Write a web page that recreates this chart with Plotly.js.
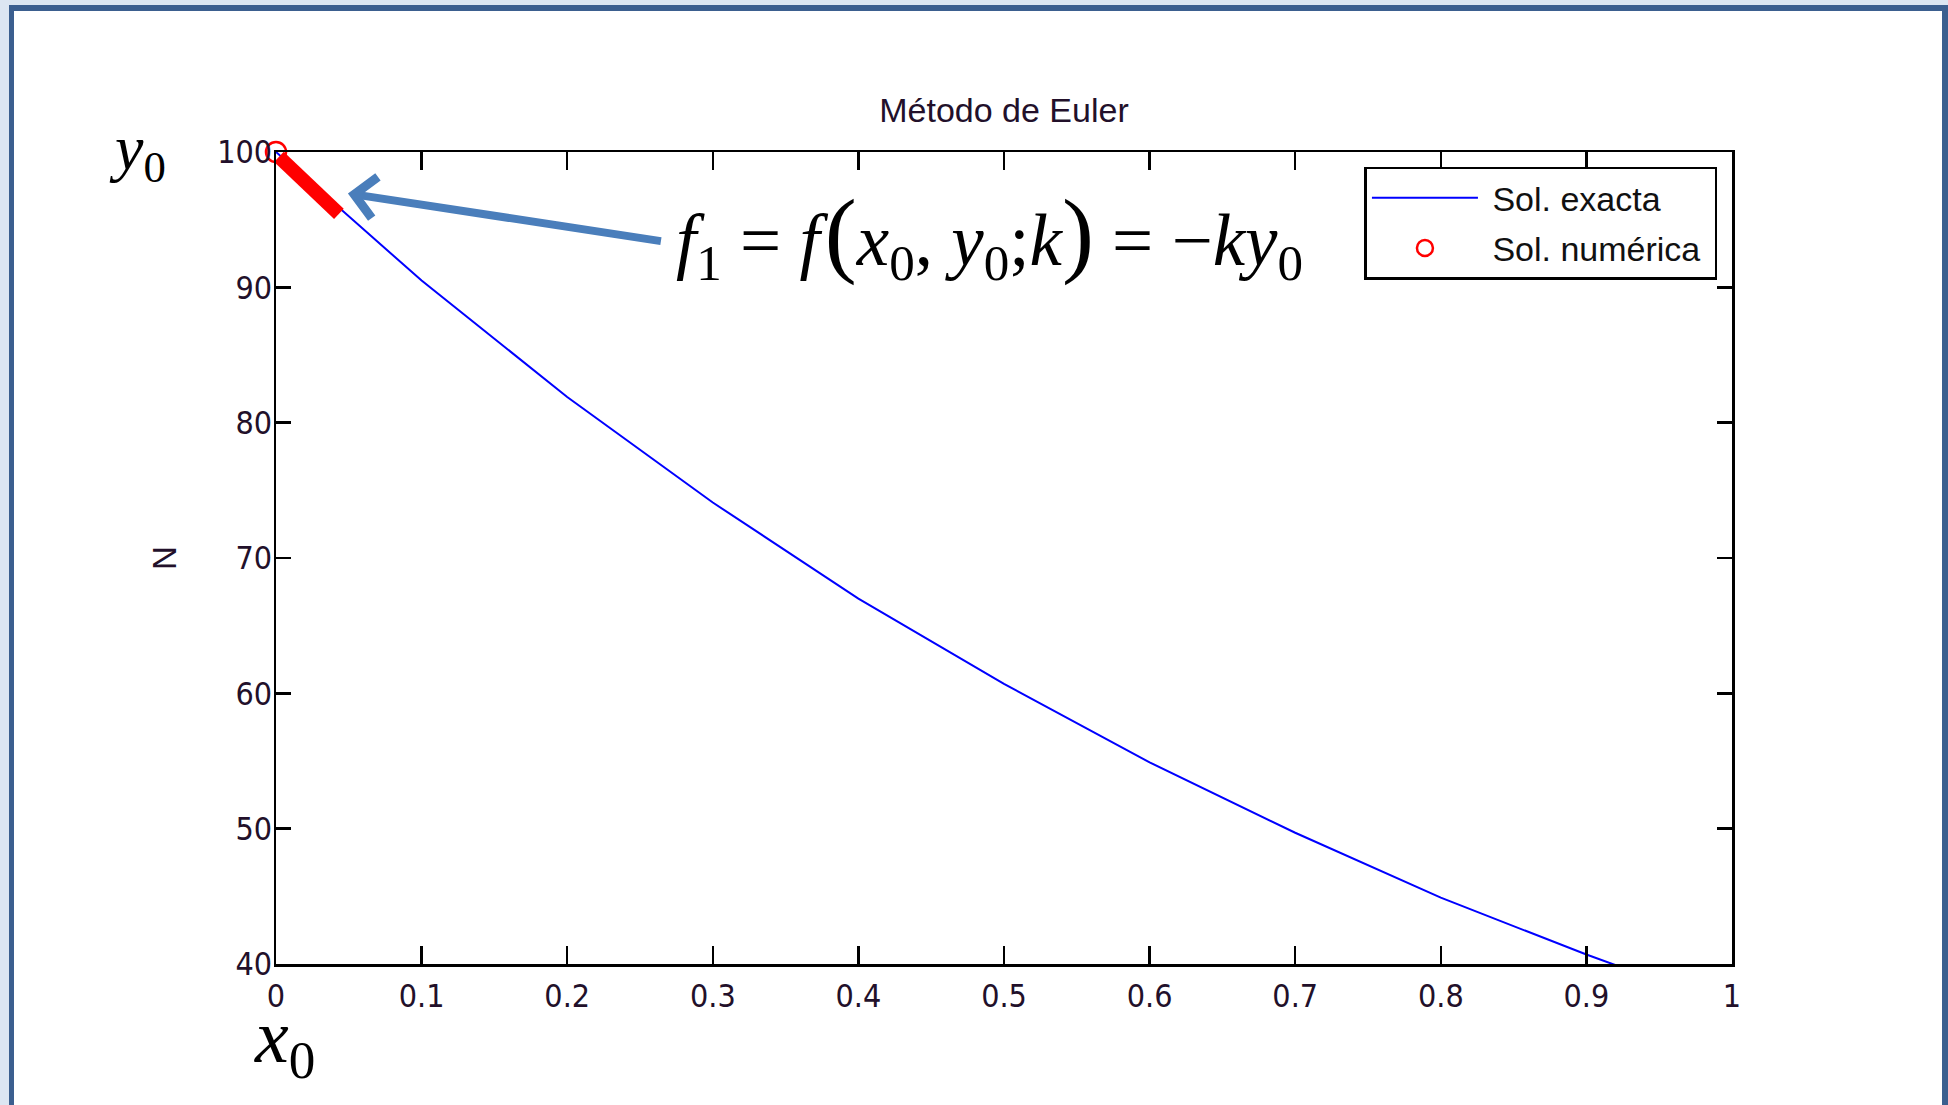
<!DOCTYPE html>
<html>
<head>
<meta charset="utf-8">
<script src="https://cdn.plot.ly/plotly-3.0.1.min.js"></script>
<style>
  html, body { margin: 0; padding: 0; width: 1948px; height: 1105px; overflow: hidden; background: #dce6f2; }
  #frame { position: absolute; left: 9px; top: 5px; width: 1928px; height: 1200px;
           border-left: 5px solid #3b5f8f; border-right: 6px solid #3b5f8f; border-top: 6px solid #3b5f8f;
           background: #ffffff; }
  #chart { position: absolute; left: 0; top: 0; width: 1948px; height: 1105px; }
</style>
</head>
<body>
<div id="frame"></div>
<div id="chart"></div>
<script>
const exactX = [0, 0.1, 0.2, 0.3, 0.4, 0.5, 0.6, 0.7, 0.8, 0.9, 1.0];
const exactN = [100, 90.5, 81.9, 74.1, 67.0, 60.7, 54.9, 49.7, 44.9, 40.7, 36.8];
// Numerical solution (only the initial point)
const numX = [0];
const numN = [100];
// Tangent segment (slope f1 = -k*y0)
const tangentX = [0.002, 0.0432];
const tangentN = [99.64, 95.43];
// Arrow: head and tail in data units
const arrowHead = [0.0494, 96.94];
const arrowTail = [0.2654, 93.40];
// Tick values
const xTicks = [0, 0.1, 0.2, 0.3, 0.4, 0.5, 0.6, 0.7, 0.8, 0.9, 1];
const xTickText = ['0', '0.1', '0.2', '0.3', '0.4', '0.5', '0.6', '0.7', '0.8', '0.9', '1'];
const yTicks = [40, 50, 60, 70, 80, 90, 100];
const yTickText = ['40', '50', '60', '70', '80', '90', '100'];
const seriesNames = ['Sol. exacta', 'Sol. numérica'];

const sans = 'Liberation Sans, Arial, sans-serif';
const narrow = 'Liberation Sans Narrow, Arial Narrow, DejaVu Sans Condensed, Liberation Sans, sans-serif';
const serif = 'Liberation Serif, Times New Roman, serif';
const txt = '#22102a';
const pad = '\u00a0';

const traces = [
  { x: exactX, y: exactN, type: 'scatter', mode: 'lines', name: pad + seriesNames[0] + pad,
    legendgroup: 'a', line: { color: '#0000ff', width: 2 } },
  { x: numX, y: numN, type: 'scatter', mode: 'markers', name: pad + seriesNames[1] + pad, cliponaxis: false,
    legendgroup: 'b',
    marker: { symbol: 'circle-open', size: 20, color: '#ff0000', line: { color: '#ff0000', width: 2.5 } } },
  { x: tangentX, y: tangentN, type: 'scatter', mode: 'lines', showlegend: false, hoverinfo: 'skip',
    line: { color: '#ff0000', width: 14 } }
];

const axisCommon = {
  showline: true, linecolor: '#000', linewidth: 2.5, mirror: 'ticks',
  ticks: 'inside', tickcolor: '#000', tickwidth: 2.5,
  showgrid: false, zeroline: false, tickmode: 'array',
  tickfont: { family: narrow, size: 32, color: txt }
};

const layout = {
  width: 1948, height: 1105,
  paper_bgcolor: 'rgba(0,0,0,0)', plot_bgcolor: '#ffffff',
  margin: { l: 276, r: 216, t: 152, b: 141 },
  title: { text: 'Método de Euler', font: { family: sans, size: 34, color: txt },
           x: 0.5, xref: 'paper', y: 1, yref: 'paper', yanchor: 'bottom', pad: { b: 30 } },
  xaxis: Object.assign({}, axisCommon, { range: [0, 1], tickvals: xTicks, ticktext: xTickText,
           ticklen: 18, ticklabelstandoff: 2 }),
  yaxis: Object.assign({}, axisCommon, { range: [40, 100], tickvals: yTicks, ticktext: yTickText,
           ticklen: 15, ticklabelstandoff: -5,
           title: { text: 'N', font: { family: sans, size: 33, color: txt }, standoff: 31 } }),
  legend: { x: 0.99, xanchor: 'right', y: 0.982, yanchor: 'top',
            bgcolor: '#ffffff', bordercolor: '#000', borderwidth: 2.5, traceorder: 'grouped',
            tracegroupgap: 3,
            font: { family: sans, size: 34, color: '#111' }, itemwidth: 106 },
  showlegend: true,
  annotations: [
    { x: arrowHead[0], y: arrowHead[1], xref: 'x', yref: 'y',
      ax: arrowTail[0], ay: arrowTail[1], axref: 'x', ayref: 'y',
      text: '', showarrow: true, arrowhead: 4, arrowsize: 1, arrowwidth: 8, arrowcolor: '#4a7ebb' },
    { x: arrowTail[0], y: arrowTail[1], xref: 'x', yref: 'y', xanchor: 'left', yanchor: 'middle',
      xshift: 12, yshift: 6, showarrow: false,
      font: { family: serif, size: 73, color: '#000' },
      text: '<i>f</i><sub>1</sub> = <i>f</i><span style="font-size:20px"> </span><span style="font-size:96px">(</span><i>x</i><sub>0</sub>, <i>y</i><sub>0</sub>;<i>k</i><span style="font-size:96px">)</span> = −<i>ky</i><sub>0</sub>' },
    { x: 0, y: 100, xref: 'x', yref: 'y', xanchor: 'center', yanchor: 'middle',
      xshift: -139, yshift: 0, showarrow: false,
      font: { family: serif, size: 64, color: '#000' },
      text: '<i>y</i><sub>0</sub>' },
    { x: 0, y: 40, xref: 'x', yref: 'y', xanchor: 'center', yanchor: 'top',
      xshift: 8, yshift: -28, showarrow: false,
      font: { family: serif, size: 76, color: '#000' },
      text: '<i>x</i><sub>0</sub>' }
  ]
};

Plotly.newPlot('chart', traces, layout, { displayModeBar: false, staticPlot: true });
</script>
</body>
</html>
